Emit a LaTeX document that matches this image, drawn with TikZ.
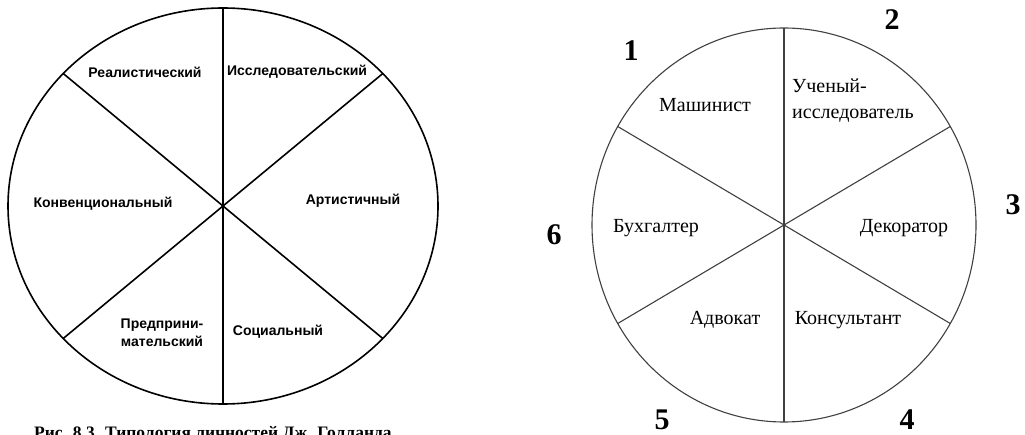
\documentclass[tikz,border=0pt]{standalone}
\usepackage{fontspec}
\setmainfont{Liberation Serif}
\setsansfont{Liberation Sans}
\usetikzlibrary{positioning}

\begin{document}
\begin{tikzpicture}[
    x=1pt, y=-1pt,
    % Styles
    wheelL/.style={draw=black, line width=1.6pt},
    wheelR/.style={draw=black!75, line width=1.1pt},
    typename/.style={font=\sffamily\bfseries\fontsize{14}{18}\selectfont, inner sep=0pt},
    profession/.style={font=\rmfamily\fontsize{20}{26}\selectfont, inner sep=0pt},
    sectornum/.style={font=\rmfamily\bfseries\fontsize{30}{30}\selectfont, inner sep=0pt},
    caption/.style={font=\rmfamily\bfseries\fontsize{17.5}{20}\selectfont, inner sep=0pt}
]
\useasboundingbox (0,0) rectangle (1025,435);

% --- Left wheel: Holland types ---
\coordinate (L) at (223,206);
\draw[wheelL] (L) ellipse [x radius=215, y radius=198];
\foreach \a [count=\i] in {90,42,318,270,222,138}
    \path (L) ++(\a:215 and 198) coordinate (L\i);
\foreach \i in {1,...,6}
    \draw[wheelL] (L) -- (L\i);

\node[typename] (Real) at (145,72) {Реалистический};
\node[typename] (Invest) at (297,72) {Исследовательский};
\node[typename] (Conv) at (103,204) {Конвенциональный};
\node[typename] (Art) at (353,201) {Артистичный};
\node[typename, align=center] (Enter) at (162,333) {Предприни-\\мательский};
\node[typename] (Soc) at (278,332) {Социальный};

\node[caption, anchor=base west] (Cap) at (34,438) {Рис. 8.3. Типология личностей Дж. Голланда};

% --- Right wheel: professions ---
\coordinate (R) at (784,225);
\draw[wheelR] (R) ellipse [x radius=192, y radius=197];
\foreach \a [count=\i] in {90,30,330,270,210,150}
    \path (R) ++(\a:192 and 197) coordinate (R\i);
\foreach \i in {1,...,6}
    \draw[wheelR] (R) -- (R\i);

\node[profession] (Mash) at (705,105) {Машинист};
\node[profession, anchor=west, align=left] (Sci) at (792,101) {Ученый-\\исследователь};
\node[profession] (Buh) at (656,228) {Бухгалтер};
\node[profession] (Dec) at (904,228) {Декоратор};
\node[profession] (Adv) at (725,320) {Адвокат};
\node[profession] (Kons) at (848,320) {Консультант};

% --- Sector numbers ---
\node[sectornum] (N1) at (631,51) {1};
\node[sectornum] (N2) at (892,20) {2};
\node[sectornum] (N3) at (1013,205) {3};
\node[sectornum] (N4) at (907,420) {4};
\node[sectornum] (N5) at (662,420) {5};
\node[sectornum] (N6) at (554,235) {6};

\end{tikzpicture}
\end{document}
